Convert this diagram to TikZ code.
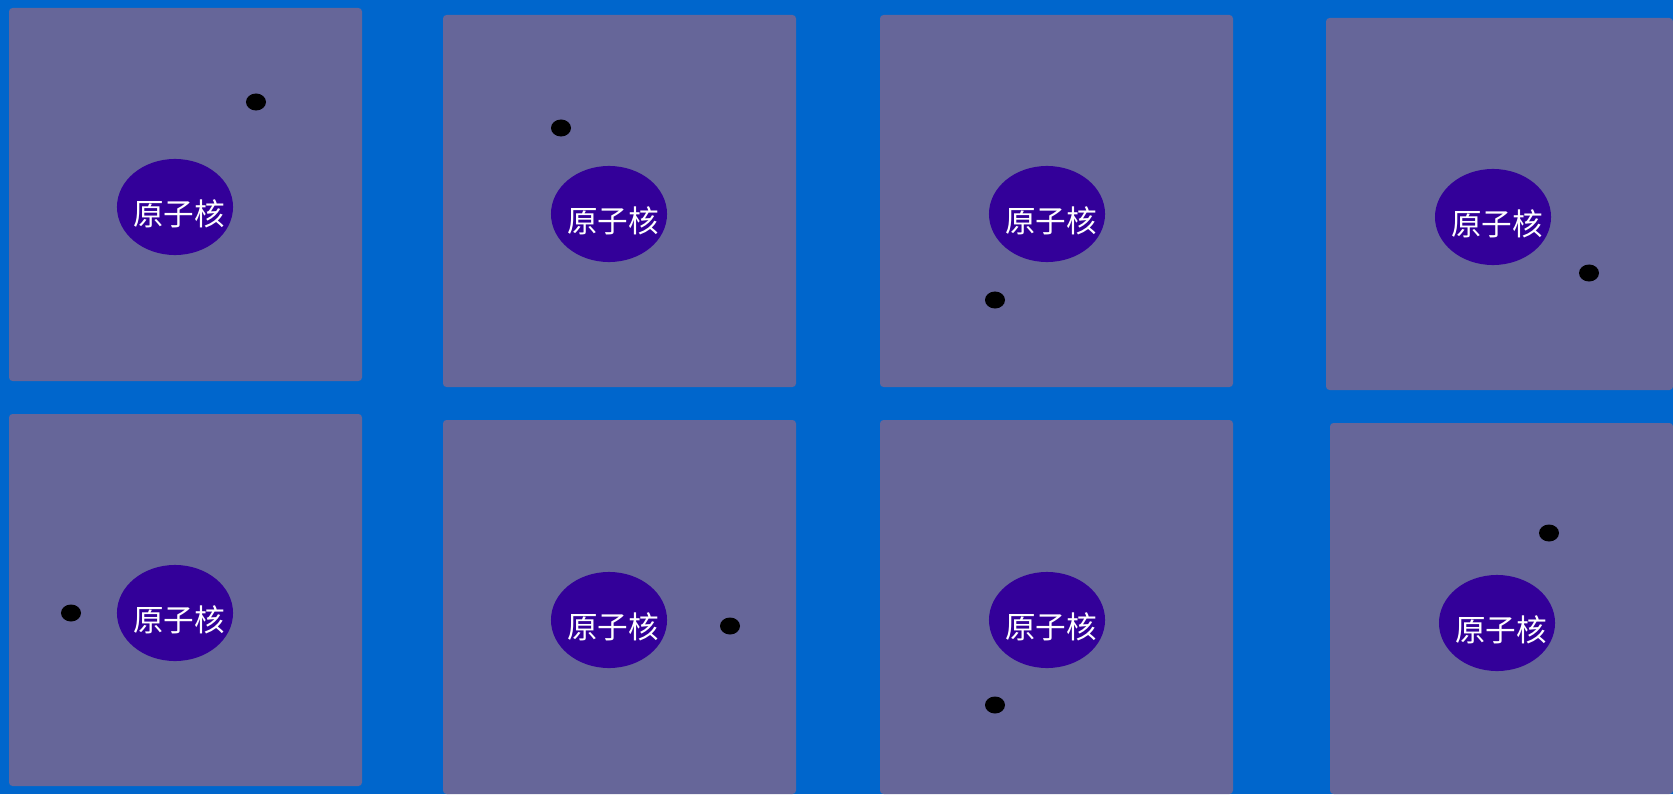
\documentclass[tikz,border=0pt]{standalone}
\usepackage{fontspec}
\newfontfamily\cjk{Noto Sans CJK SC}
\usetikzlibrary{shapes.geometric}

\definecolor{bgblue}{HTML}{0066CC}
\definecolor{panelgray}{HTML}{666699}
\definecolor{nucblue}{HTML}{330099}

\begin{document}
\begin{tikzpicture}[
    x=0.01cm, y=-0.01cm,
    panel/.style={fill=panelgray, rounded corners=1pt},
    nucleus/.style={ellipse, fill=nucblue, minimum width=1.16cm, minimum height=0.96cm, inner sep=0pt},
    nuclabel/.style={text=white, inner sep=0pt, font=\cjk\fontsize{8.7}{10}\selectfont},
    electron/.style={ellipse, fill=black, minimum width=0.2cm, minimum height=0.17cm, inner sep=0pt}
]
    \useasboundingbox (0,0) rectangle (1673,794);
    \fill[bgblue] (0,0) rectangle (1673,794);

    % panel corners, nucleus centre, electron centre
    \foreach \i/\xa/\ya/\xb/\yb/\nx/\ny/\ex/\ey in {
        1/9/8/362/381/175/207/256/102,
        2/443/15/796/387/609/214/561/128,
        3/880/15/1233/387/1047/214/995/300,
        4/1326/18/1673/390/1493/217/1589/273,
        5/9/414/362/786/175/613/71/613,
        6/443/420/796/794/609/620/730/626,
        7/880/420/1233/794/1047/620/995/705,
        8/1330/423/1673/794/1497/623/1549/533}
    {
        \fill[panel] (\xa,\ya) rectangle (\xb,\yb);
        \node[nucleus, label={[nuclabel, xshift=0.04cm, yshift=-0.07cm]center:原子核}] (nuc\i) at (\nx,\ny) {};
        \node[electron] (e\i) at (\ex,\ey) {};
    }
\end{tikzpicture}
\end{document}
